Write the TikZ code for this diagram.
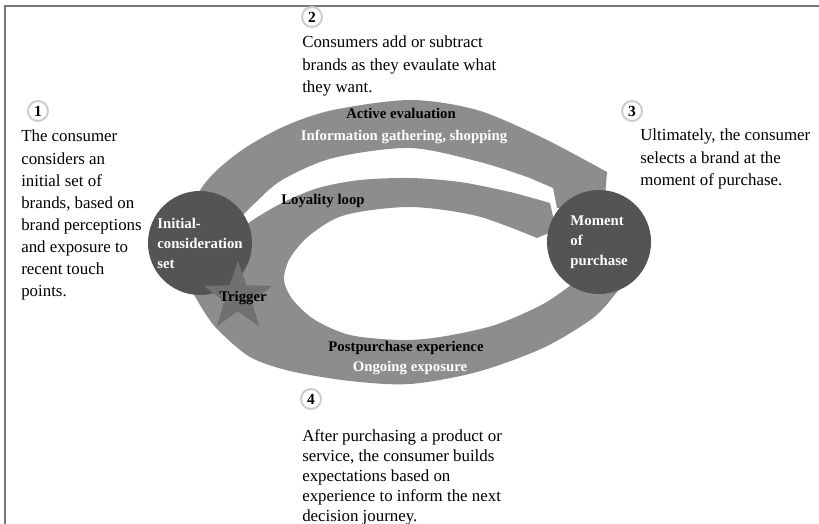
\documentclass[tikz,border=0pt]{standalone}
\usepackage{fontspec}
\setmainfont{Liberation Serif}
\usepackage{tikz}
\usetikzlibrary{shapes.geometric,positioning}

\definecolor{bandfill}{RGB}{141,141,141}
\definecolor{stagefill}{RGB}{84,84,84}
\definecolor{starfill}{RGB}{112,112,112}
\definecolor{framecol}{RGB}{120,120,120}
\definecolor{ringcol}{RGB}{205,205,205}

\tikzset{
  band/.style={fill=bandfill},
  stage/.style={shape=circle, fill=stagefill, minimum size=2.6cm, inner sep=0pt,
    text=white, align=left, font=\fontsize{10.5}{14.2}\selectfont\bfseries},
  trig/.style={shape=star, star points=5, star point ratio=2.5, fill=starfill,
    minimum size=1.8cm, inner sep=0pt},
  lbl/.style={font=\fontsize{10.5}{13}\selectfont\bfseries, inner sep=0pt},
  numring/.style={shape=circle, draw=ringcol, line width=1.4pt, fill=white,
    minimum size=0.5cm, inner sep=0pt, font=\fontsize{11}{11}\selectfont\bfseries},
  note/.style={anchor=north west, align=left, inner sep=0pt,
    font=\fontsize{12}{15.7}\selectfont},
}

\begin{document}
\begin{tikzpicture}[x=0.025cm, y=-0.025cm]
  \useasboundingbox (0,0) rectangle (819,524);
  \draw[framecol, line width=1.2pt] (5,524) -- (5,6) -- (819,6);

  % loyalty loop + postpurchase band (one piece)
  \fill[band] plot[smooth] coordinates {(550,203) (510,192) (460,182) (410,178)
      (360,180) (318,188) (282,203) (250,222) (215,250) (197,275)}
    -- plot[smooth] coordinates {(193,293) (205,313) (218,330) (250,357) (290,371)
      (350,381) (410,384) (477,372) (543,348) (593,318) (617,292) (625,282)}
    -- (610,255)
    -- plot[smooth] coordinates {(580,278) (545,303) (495,325) (440,337) (400,340)
      (350,335) (315,320) (293,300) (284,280) (290,258) (310,235) (345,215)
      (410,207) (477,216) (537,238)}
    -- (556,230) -- cycle;

  % active evaluation band
  \fill[band] plot[smooth] coordinates {(205,215) (198,195) (215,172) (245,148)
      (285,126) (333,110) (410,100) (477,110) (543,138) (607,172)}
    -- (604,210) -- (557,208) -- (553,188)
    -- plot[smooth] coordinates {(530,178) (480,162) (410,148) (333,158)
      (282,180) (255,203) (238,220)} -- cycle;

  \node[stage] (init) at (200,243) {Initial-\\consideration\\set};
  \node[stage] (buy) at (599,242) {Moment\\of\\purchase};
  \node[trig] (trig) at (238,297) {};

  \node[lbl] (trigtxt) at (243,298) {Trigger};
  \node[lbl] (active) at (401,113) {Active evaluation};
  \node[lbl, text=white] (info) at (404,137) {Information gathering, shopping};
  \node[lbl] (loyal) at (323,201) {Loyality loop};
  \node[lbl] (post) at (406,348) {Postpurchase experience};
  \node[lbl, text=white] (ongoing) at (410,368) {Ongoing exposure};

  % numbered notes
  \node[numring] (n1) at (38,111) {1};
  \node[numring] (n2) at (312,17) {2};
  \node[numring] (n3) at (632,111) {3};
  \node[numring] (n4) at (311,399) {4};

  \node[note] (t1) at (21,130) {The consumer\\considers an\\initial set of\\brands, based on\\brand perceptions\\and exposure to\\recent touch\\points.};
  \node[note] (t2) at (302,36) {Consumers add or subtract\\brands as they evaulate what\\they want.};
  \node[note] (t3) at (640,129) {Ultimately, the consumer\\selects a brand at the\\moment of purchase.};
  \node[note, font=\fontsize{12}{14.2}\selectfont] (t4) at (302,429) {After purchasing a product or\\service, the consumer builds\\expectations based on\\experience to inform the next\\decision journey.};
\end{tikzpicture}
\end{document}
